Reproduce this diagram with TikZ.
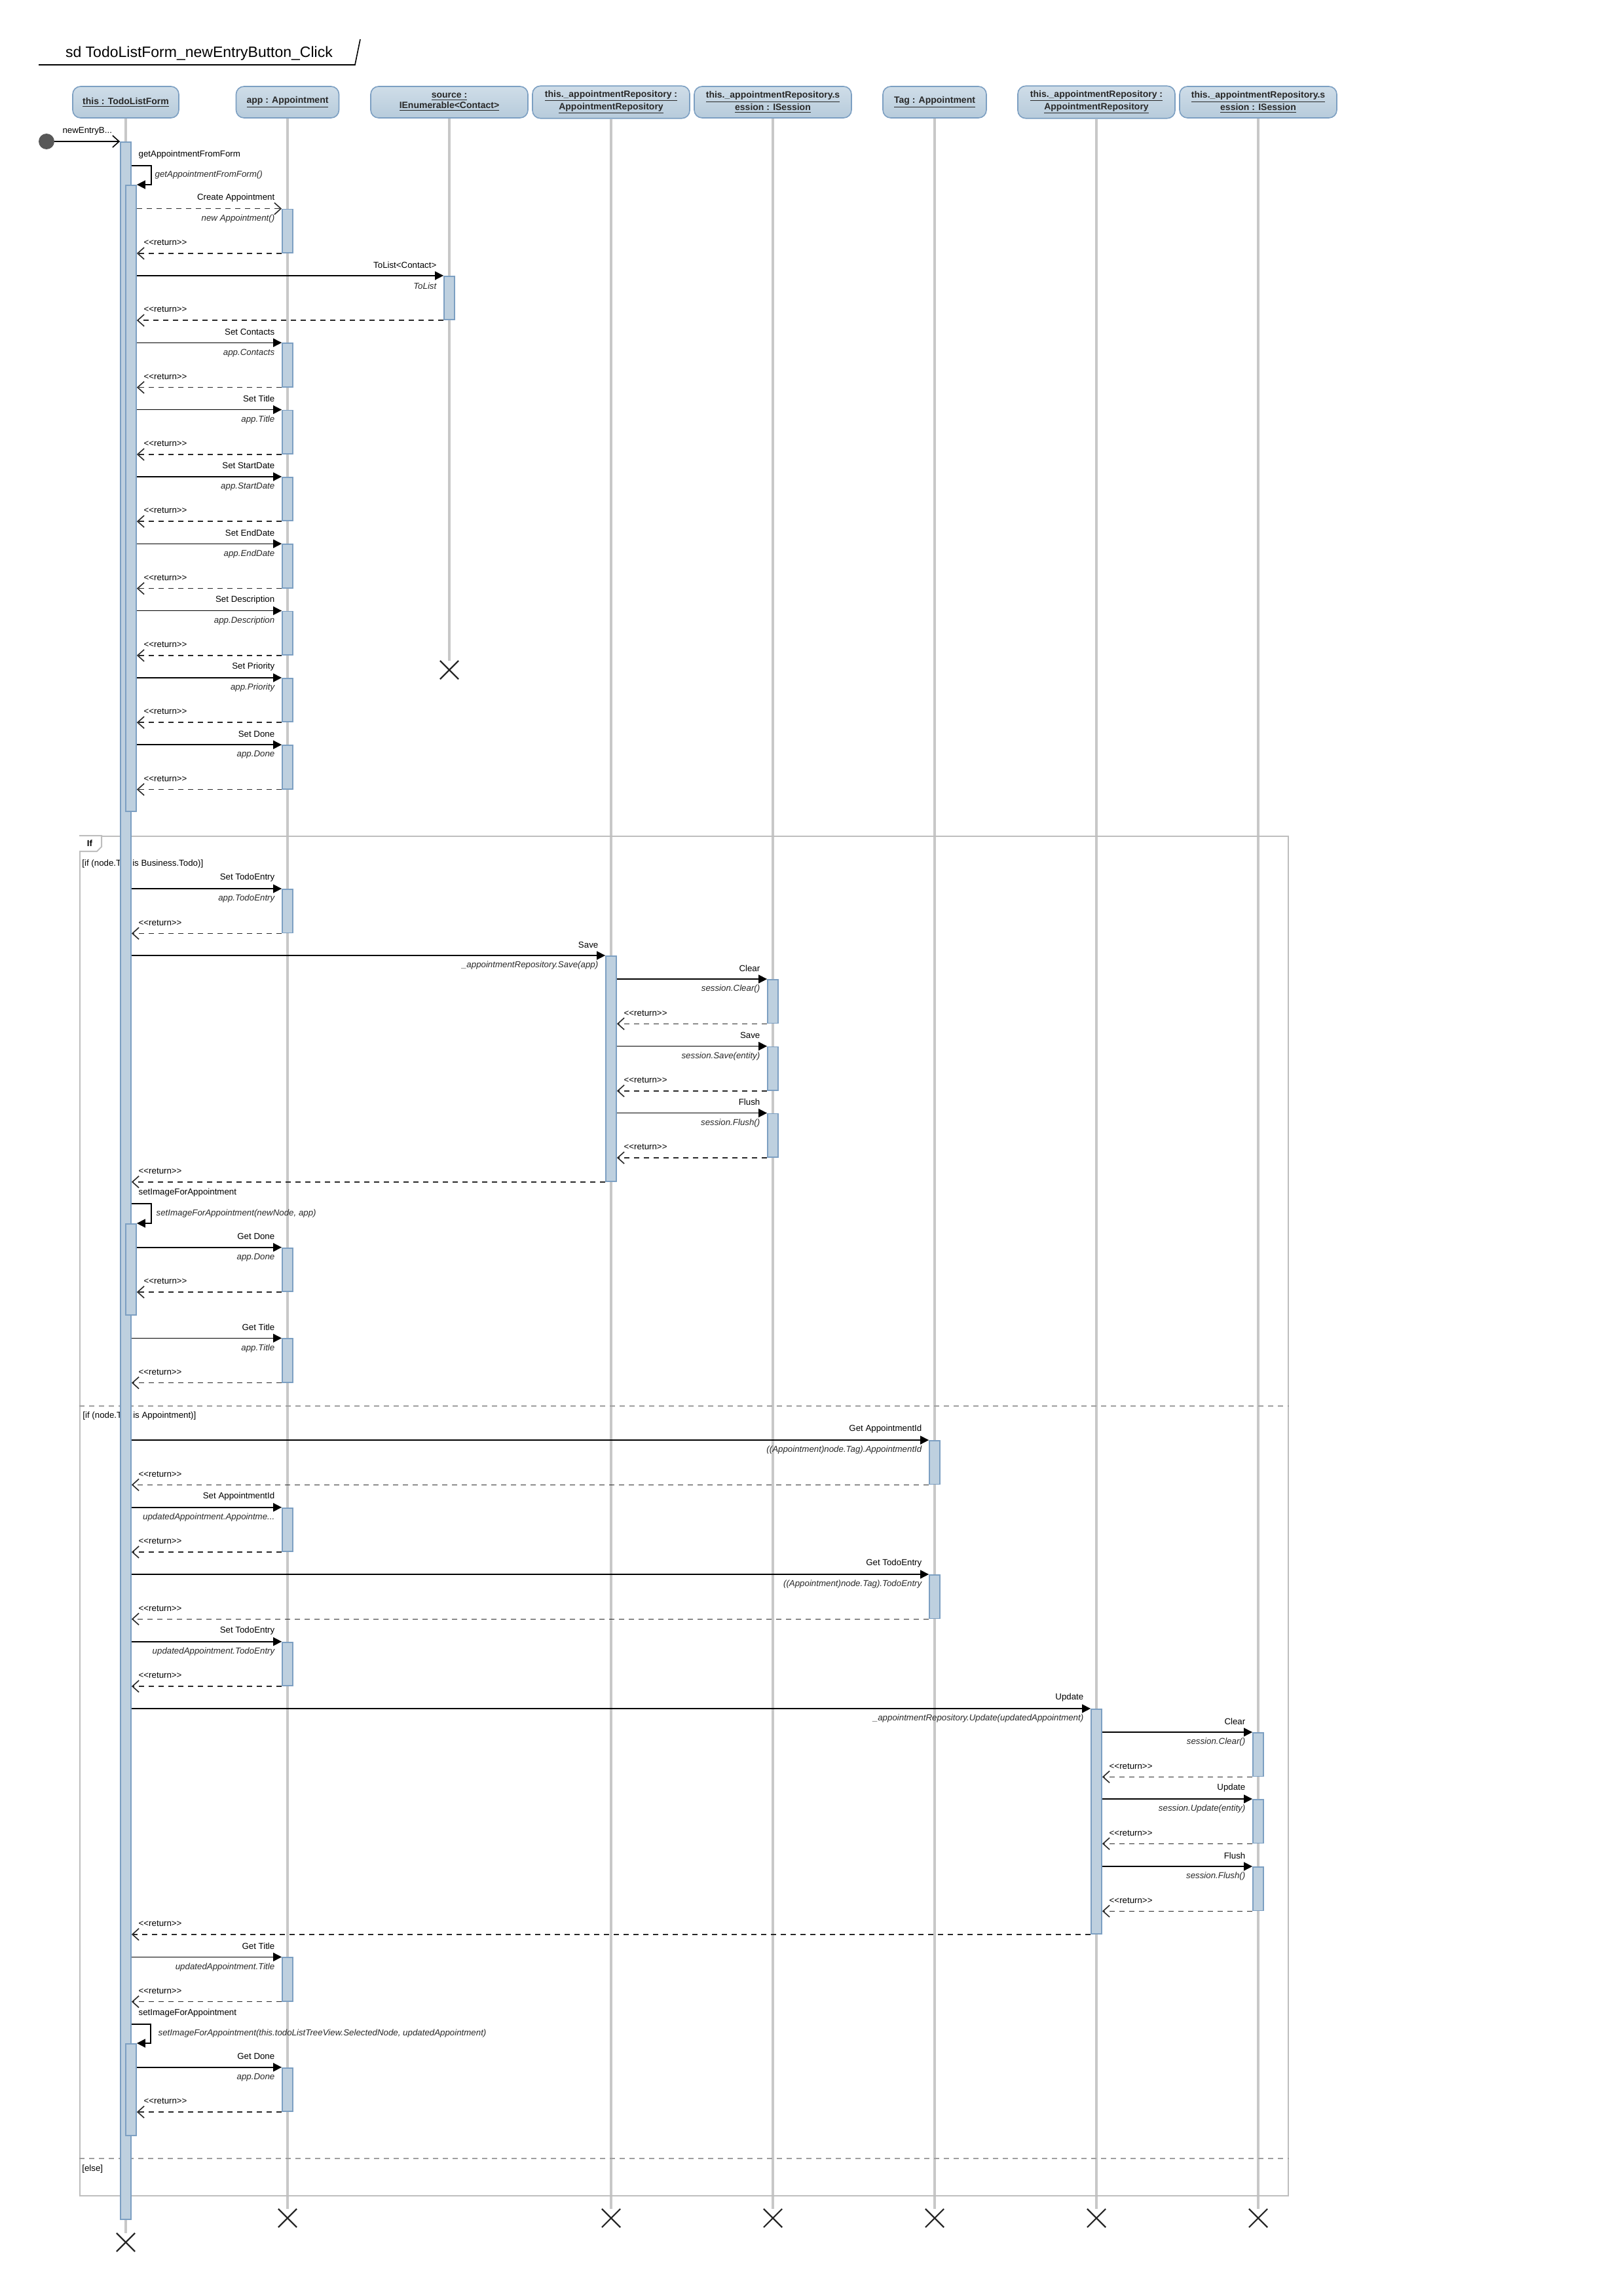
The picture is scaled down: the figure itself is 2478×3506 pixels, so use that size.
\documentclass[tikz,border=0pt]{standalone}
\usepackage{fontspec}
\newfontfamily\diafont{Liberation Sans}
\usepackage{tikz}
\usetikzlibrary{arrows.meta,shapes.misc}
\usepackage{xcolor}
\definecolor{lifegray}{RGB}{200,200,200}
\definecolor{actfill}{RGB}{190,208,223}
\definecolor{actdraw}{RGB}{124,159,194}
\definecolor{headtop}{RGB}{207,221,232}
\definecolor{headbot}{RGB}{183,203,219}
\definecolor{framegray}{RGB}{190,190,190}
\definecolor{inkgray}{RGB}{40,40,40}
\definecolor{startgray}{RGB}{88,88,88}
\tikzset{
    head/.style={
        draw=actdraw,line width=0.8pt,rounded corners=6pt,
        top color=headtop,bottom color=headbot,minimum height=24pt,
        align=center,text=inkgray,
        font=\diafont\fontsize{7}{8}\selectfont\bfseries
    },
    life/.style={draw=lifegray,line width=1.6pt},
    endx/.style={
        draw=inkgray,cross out,line width=1.1pt,
        minimum size=13pt,inner sep=0pt
    },
    bar/.style={
        draw=actdraw,line width=0.9pt,fill=actfill,inner sep=0pt,
        minimum width=8pt,minimum height=33.25pt,anchor=north
    },
    call/.style={-{Triangle[length=6.5pt,width=6.5pt]},line width=0.8pt},
    ret/.style={
        -{Straight Barb[length=5pt,width=9pt]},line width=0.8pt,
        draw=inkgray,dash pattern=on 4pt off 3.5pt
    },
    found/.style={-{Straight Barb[length=5pt,width=9pt]},line width=0.8pt},
    msg/.style={font=\diafont\fontsize{6.65}{8}\selectfont,inner sep=0pt},
    note/.style={
        inner sep=0pt,text=inkgray,
        font=\diafont\fontsize{6.65}{8}\selectfont\itshape
    },
    callname/.style={msg,anchor=east,xshift=-5pt,yshift=8.25pt},
    callnote/.style={note,anchor=east,xshift=-5pt,yshift=-7.75pt},
    retname/.style={msg,anchor=west,xshift=5pt,yshift=8.25pt},
    frag/.style={draw=framegray,line width=1pt},
    opsep/.style={draw=gray!75,line width=1pt,dash pattern=on 4pt off 3.5pt},
    guard/.style={msg,anchor=west}
}

\begin{document}
\begin{tikzpicture}[x=0.5pt,y=-0.5pt]

\fill[white] (0,0) rectangle (2478,3506);
\useasboundingbox (0,0) rectangle (2478,3506);

\node[anchor=base west,font=\diafont\fontsize{11.5}{13}\selectfont]
(title) at (93,88) {sd TodoListForm\_newEntryButton\_Click};
\draw[line width=0.8pt] (59,99) -- (542,99) -- (550,60);

\node[head,minimum width=81pt] (form) at (192,156)
{\underline{this : TodoListForm}};
\node[head,minimum width=78.5pt] (app) at (439,156)
{\underline{app : Appointment}};
\node[head,minimum width=120pt] (source) at (686,156)
{\underline{source :}\\\underline{IEnumerable<Contact>}};
\node[head,minimum width=120pt] (repoA) at (933,156)
{\underline{this.\_appointmentRepository :}\\\underline{AppointmentRepository}};
\node[head,minimum width=120pt] (sessA) at (1180,156)
{\underline{this.\_appointmentRepository.s}\\\underline{ession : ISession}};
\node[head,minimum width=79pt] (tag) at (1427,156)
{\underline{Tag : Appointment}};
\node[head,minimum width=120pt] (repoB) at (1674,156)
{\underline{this.\_appointmentRepository :}\\\underline{AppointmentRepository}};
\node[head,minimum width=120pt] (sessB) at (1921,156)
{\underline{this.\_appointmentRepository.s}\\\underline{ession : ISession}};

\node[endx] (formx) at (192,3424) {};
\node[endx] (appx) at (439,3387) {};
\node[endx] (sourcex) at (686,1023) {};
\node[endx] (repoAx) at (933,3387) {};
\node[endx] (sessAx) at (1180,3387) {};
\node[endx] (tagx) at (1427,3387) {};
\node[endx] (repoBx) at (1674,3387) {};
\node[endx] (sessBx) at (1921,3387) {};

\draw[life] (form) -- (formx);
\draw[life] (app) -- (appx);
\draw[life] (source) -- (sourcex);
\draw[life] (repoA) -- (repoAx);
\draw[life] (sessA) -- (sessAx);
\draw[life] (tag) -- (tagx);
\draw[life] (repoB) -- (repoBx);
\draw[life] (sessB) -- (sessBx);

\node[frag,anchor=north west,inner sep=0pt,
minimum width=922.5pt,minimum height=1038pt] (alt) at (121,1276) {};
\draw[frag,fill=white] (alt.north west) -- ++(34,0) -- ++(0,17)
-- ++(-7,7) -- ++(-27,0);
\node[msg,font=\diafont\fontsize{6.65}{8}\selectfont\bfseries]
(iftag) at (137,1288) {If};
\draw[opsep] (alt.west |- 0,2147) -- (alt.east |- 0,2147);
\draw[opsep] (alt.west |- 0,3296) -- (alt.east |- 0,3296);
\node[guard] (guardA) at (125,1319) {[if (node.Tag is Business.Todo)]};
\node[guard] (guardB) at (126,2162) {[if (node.Tag is Appointment)]};
\node[guard] (guardC) at (125,3312) {[else]};

\node[bar,minimum height=1586pt] (act0) at (192,216) {};
\node[circle,fill=startgray,minimum size=12pt,inner sep=0pt]
(start) at (71,216) {};
\draw[found] (start) -- node[msg,yshift=8pt] {newEntryB...} (act0.north west);

\node[bar,minimum height=478pt] (act1) at (200,282) {};
\draw[call] (act0.east |- act1.north) ++(0,-29)
node[retname] {getAppointmentFromForm} -- ++(30,0)
-- node[note,anchor=west,xshift=2.5pt] {getAppointmentFromForm()} ++(0,29)
-- (act1.north east);

\node[bar] (app1) at (439,318.6) {};
\draw[ret] (act1.east |- app1.north) -- (app1.north west)
node[callname] {Create Appointment} node[callnote] {new Appointment()};
\draw[ret] (app1.south west) -- (act1.east |- app1.south)
node[retname] {<<return>>};

\node[bar] (src1) at (686,420.9) {};
\draw[call] (act1.east |- src1.north) -- (src1.north west)
node[callname] {ToList<Contact>} node[callnote] {ToList};
\draw[ret] (src1.south west) -- (act1.east |- src1.south)
node[retname] {<<return>>};

\node[bar] (app2) at (439,523.3) {};
\draw[call] (act1.east |- app2.north) -- (app2.north west)
node[callname] {Set Contacts} node[callnote] {app.Contacts};
\draw[ret] (app2.south west) -- (act1.east |- app2.south)
node[retname] {<<return>>};

\node[bar] (app3) at (439,625.6) {};
\draw[call] (act1.east |- app3.north) -- (app3.north west)
node[callname] {Set Title} node[callnote] {app.Title};
\draw[ret] (app3.south west) -- (act1.east |- app3.south)
node[retname] {<<return>>};

\node[bar] (app4) at (439,727.9) {};
\draw[call] (act1.east |- app4.north) -- (app4.north west)
node[callname] {Set StartDate} node[callnote] {app.StartDate};
\draw[ret] (app4.south west) -- (act1.east |- app4.south)
node[retname] {<<return>>};

\node[bar] (app5) at (439,830.3) {};
\draw[call] (act1.east |- app5.north) -- (app5.north west)
node[callname] {Set EndDate} node[callnote] {app.EndDate};
\draw[ret] (app5.south west) -- (act1.east |- app5.south)
node[retname] {<<return>>};

\node[bar] (app6) at (439,932.6) {};
\draw[call] (act1.east |- app6.north) -- (app6.north west)
node[callname] {Set Description} node[callnote] {app.Description};
\draw[ret] (app6.south west) -- (act1.east |- app6.south)
node[retname] {<<return>>};

\node[bar] (app7) at (439,1034.9) {};
\draw[call] (act1.east |- app7.north) -- (app7.north west)
node[callname] {Set Priority} node[callnote] {app.Priority};
\draw[ret] (app7.south west) -- (act1.east |- app7.south)
node[retname] {<<return>>};

\node[bar] (app8) at (439,1137.2) {};
\draw[call] (act1.east |- app8.north) -- (app8.north west)
node[callname] {Set Done} node[callnote] {app.Done};
\draw[ret] (app8.south west) -- (act1.east |- app8.south)
node[retname] {<<return>>};

\node[bar] (app9) at (439,1357) {};
\draw[call] (act0.east |- app9.north) -- (app9.north west)
node[callname] {Set TodoEntry} node[callnote] {app.TodoEntry};
\draw[ret] (app9.south west) -- (act0.east |- app9.south)
node[retname] {<<return>>};

\node[bar,minimum height=172pt] (repo1) at (933,1459) {};
\draw[call] (act0.east |- repo1.north) -- (repo1.north west)
node[callname] {Save} node[callnote] {\_appointmentRepository.Save(app)};

\node[bar] (sess1) at (1180,1495) {};
\draw[call] (repo1.east |- sess1.north) -- (sess1.north west)
node[callname] {Clear} node[callnote] {session.Clear()};
\draw[ret] (sess1.south west) -- (repo1.east |- sess1.south)
node[retname] {<<return>>};

\node[bar] (sess2) at (1180,1597.5) {};
\draw[call] (repo1.east |- sess2.north) -- (sess2.north west)
node[callname] {Save} node[callnote] {session.Save(entity)};
\draw[ret] (sess2.south west) -- (repo1.east |- sess2.south)
node[retname] {<<return>>};

\node[bar] (sess3) at (1180,1699.6) {};
\draw[call] (repo1.east |- sess3.north) -- (sess3.north west)
node[callname] {Flush} node[callnote] {session.Flush()};
\draw[ret] (sess3.south west) -- (repo1.east |- sess3.south)
node[retname] {<<return>>};

\draw[ret] (repo1.south west) -- (act0.east |- repo1.south)
node[retname] {<<return>>};

\node[bar,minimum height=69.5pt] (act2) at (200,1868) {};
\draw[call] (act0.east |- act2.north) ++(0,-30)
node[retname] {setImageForAppointment} -- ++(30,0)
-- node[note,anchor=west,xshift=3.5pt] {setImageForAppointment(newNode, app)} ++(0,30)
-- (act2.north east);

\node[bar] (app10) at (439,1904.7) {};
\draw[call] (act2.east |- app10.north) -- (app10.north west)
node[callname] {Get Done} node[callnote] {app.Done};
\draw[ret] (app10.south west) -- (act2.east |- app10.south)
node[retname] {<<return>>};

\node[bar] (app11) at (439,2043.3) {};
\draw[call] (act0.east |- app11.north) -- (app11.north west)
node[callname] {Get Title} node[callnote] {app.Title};
\draw[ret] (app11.south west) -- (act0.east |- app11.south)
node[retname] {<<return>>};

\node[bar] (tag1) at (1427,2199) {};
\draw[call] (act0.east |- tag1.north) -- (tag1.north west)
node[callname] {Get AppointmentId}
node[callnote] {((Appointment)node.Tag).AppointmentId};
\draw[ret] (tag1.south west) -- (act0.east |- tag1.south)
node[retname] {<<return>>};

\node[bar] (app12) at (439,2301.7) {};
\draw[call] (act0.east |- app12.north) -- (app12.north west)
node[callname] {Set AppointmentId}
node[callnote] {updatedAppointment.Appointme...};
\draw[ret] (app12.south west) -- (act0.east |- app12.south)
node[retname] {<<return>>};

\node[bar] (tag2) at (1427,2404) {};
\draw[call] (act0.east |- tag2.north) -- (tag2.north west)
node[callname] {Get TodoEntry}
node[callnote] {((Appointment)node.Tag).TodoEntry};
\draw[ret] (tag2.south west) -- (act0.east |- tag2.south)
node[retname] {<<return>>};

\node[bar] (app13) at (439,2506.7) {};
\draw[call] (act0.east |- app13.north) -- (app13.north west)
node[callname] {Set TodoEntry}
node[callnote] {updatedAppointment.TodoEntry};
\draw[ret] (app13.south west) -- (act0.east |- app13.south)
node[retname] {<<return>>};

\node[bar,minimum height=171.5pt] (repo2) at (1674,2609) {};
\draw[call] (act0.east |- repo2.north) -- (repo2.north west)
node[callname] {Update}
node[callnote] {\_appointmentRepository.Update(updatedAppointment)};

\node[bar] (sess4) at (1921,2645) {};
\draw[call] (repo2.east |- sess4.north) -- (sess4.north west)
node[callname] {Clear} node[callnote] {session.Clear()};
\draw[ret] (sess4.south west) -- (repo2.east |- sess4.south)
node[retname] {<<return>>};

\node[bar] (sess5) at (1921,2747) {};
\draw[call] (repo2.east |- sess5.north) -- (sess5.north west)
node[callname] {Update} node[callnote] {session.Update(entity)};
\draw[ret] (sess5.south west) -- (repo2.east |- sess5.south)
node[retname] {<<return>>};

\node[bar] (sess6) at (1921,2850) {};
\draw[call] (repo2.east |- sess6.north) -- (sess6.north west)
node[callname] {Flush} node[callnote] {session.Flush()};
\draw[ret] (sess6.south west) -- (repo2.east |- sess6.south)
node[retname] {<<return>>};

\draw[ret] (repo2.south west) -- (act0.east |- repo2.south)
node[retname] {<<return>>};

\node[bar] (app14) at (439,2988.3) {};
\draw[call] (act0.east |- app14.north) -- (app14.north west)
node[callname] {Get Title} node[callnote] {updatedAppointment.Title};
\draw[ret] (app14.south west) -- (act0.east |- app14.south)
node[retname] {<<return>>};

\node[bar,minimum height=70pt] (act3) at (200,3120) {};
\draw[call] (act0.east |- act3.north) ++(0,-29.3)
node[retname] {setImageForAppointment} -- ++(29,0)
-- node[note,anchor=west,xshift=5.5pt]
{setImageForAppointment(this.todoListTreeView.SelectedNode, updatedAppointment)}
++(0,29.3) -- (act3.north east);

\node[bar] (app15) at (439,3156.7) {};
\draw[call] (act3.east |- app15.north) -- (app15.north west)
node[callname] {Get Done} node[callnote] {app.Done};
\draw[ret] (app15.south west) -- (act3.east |- app15.south)
node[retname] {<<return>>};

\end{tikzpicture}
\end{document}
